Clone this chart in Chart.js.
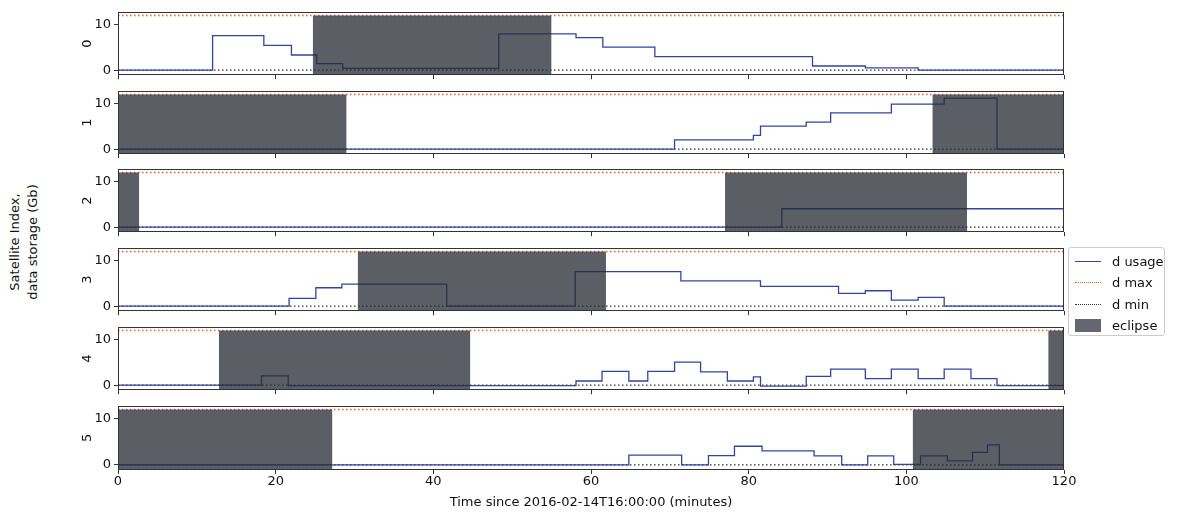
<!DOCTYPE html>
<html>
<head>
<meta charset="utf-8">
<script src="https://cdn.jsdelivr.net/npm/chart.js@4.4.0/dist/chart.umd.min.js"></script>
<style>
  body { margin: 0; background: #fff; width: 1181px; height: 512px; overflow: hidden; position: relative;
         font-family: "DejaVu Sans", sans-serif; color: #111; }
  canvas { position: absolute; left: 0; }
  #ylab { position: absolute; left: -126px; top: 224px; width: 300px; text-align: center; font-size: 13px;
          line-height: 18px; transform: rotate(-90deg); transform-origin: 150px 18px; }
  #legend { position: absolute; left: 1068px; top: 247px; width: 95px; height: 87px; border: 1px solid #ccc;
            border-radius: 3px; font-size: 13px; background: #fff; z-index: 5; }
  .item { position: absolute; left: 0; height: 16px; width: 95px; }
  .swatch { position: absolute; left: 6px; top: 7px; width: 26px; height: 0; }
  .item span { position: absolute; left: 43px; top: 0; line-height: 16px; }
</style>
</head>
<body>
<div id="ylab">Satellite Index,<br>data storage (Gb)</div>
<div id="legend">
  <div class="item" style="top:6px"><div class="swatch" style="border-top:1.5px solid #3344a0"></div><span>d usage</span></div>
  <div class="item" style="top:27px"><div class="swatch" style="border-top:1.5px dotted #f05a28"></div><span>d max</span></div>
  <div class="item" style="top:49px"><div class="swatch" style="border-top:1.5px dotted #333"></div><span>d min</span></div>
  <div class="item" style="top:70px"><div class="swatch" style="top:1px;height:13px;width:26px;background:rgba(40,44,52,0.72)"></div><span>eclipse</span></div>
</div>
<script>
// axis ticks and labels
const xTicks = [0, 20, 40, 60, 80, 100, 120];
const yTicks = [0, 10];
const satLabels = ['0', '1', '2', '3', '4', '5'];
const xTitle = 'Time since 2016-02-14T16:00:00 (minutes)';
const dMax = 11.9;
const dMin = 0;

// storage usage: step start times (minutes) and values (Gb)
const t0 = [0, 12, 18.5, 22, 25.2, 28.5, 48.3, 58.1, 61.5, 68.1, 88.1, 94.8, 101.5];
const u0 = [0, 7.5, 5.4, 3.3, 1.4, 0.4, 7.9, 7.1, 5.0, 2.95, 0.9, 0.5, 0];
const t1 = [0, 70.6, 80.6, 81.5, 87.3, 90.4, 98.1, 104.8, 111.5];
const u1 = [0, 2.0, 3.0, 5.0, 5.9, 7.9, 9.8, 11.1, 0];
const t2 = [0, 84.2];
const u2 = [0, 4.0];
const t3 = [0, 21.7, 25.1, 28.4, 41.7, 58.0, 71.4, 81.5, 91.4, 94.8, 98.1, 101.5, 104.8];
const u3 = [0, 1.7, 4.0, 4.8, 0, 7.5, 5.5, 4.3, 2.8, 3.35, 1.3, 1.9, 0];
const t4 = [0, 18.2, 21.6, 58.1, 61.4, 64.8, 67.2, 70.6, 73.9, 77.3, 80.6, 81.5, 87.3, 90.4, 94.8, 98.1, 101.5, 104.8, 108.2, 111.5];
const u4 = [0, 2.0, -0.1, 0.9, 3.0, 0.9, 3.0, 5.0, 2.9, 0.9, 1.8, -0.2, 1.9, 3.5, 1.4, 3.5, 1.4, 3.5, 1.4, -0.1];
const t5 = [0, 64.8, 71.5, 74.9, 78.2, 81.7, 88.3, 91.8, 95.1, 98.4, 101.8, 105.2, 108.4, 110.3, 111.8];
const u5 = [0, 2.1, 0, 2.0, 4.0, 3.0, 1.95, 0, 1.95, 0.1, 1.95, 0.85, 2.7, 4.3, 0];

// eclipse intervals [start, end] in minutes
const ecl0 = [[24.7, 55.0]];
const ecl1 = [[0, 29.0], [103.3, 120]];
const ecl2 = [[0, 2.7], [77.0, 107.7]];
const ecl3 = [[30.4, 61.9]];
const ecl4 = [[12.8, 44.7], [118.0, 120]];
const ecl5 = [[0, 27.2], [100.8, 120]];

const times = [t0, t1, t2, t3, t4, t5];
const usage = [u0, u1, u2, u3, u4, u5];
const eclipses = [ecl0, ecl1, ecl2, ecl3, ecl4, ecl5];

const panelTops = [11, 90, 168, 247, 326, 405];
const panelH = 65;
const padTop = 10;

// box around each plot area, like matplotlib spines
const frame = {
  id: 'frame',
  afterDraw(chart) {
    const { ctx, chartArea: a } = chart;
    ctx.save();
    ctx.strokeStyle = '#333';
    ctx.lineWidth = 1;
    ctx.strokeRect(Math.round(a.left) + 0.5, Math.round(a.top) + 0.5,
                   Math.round(a.right - a.left) - 1, Math.round(a.bottom - a.top) - 1);
    ctx.restore();
  }
};

Chart.defaults.font.family = '"DejaVu Sans", sans-serif';
Chart.defaults.font.size = 13;
Chart.defaults.color = '#111';

satLabels.forEach((lab, i) => {
  const last = i === satLabels.length - 1;
  const xH = last ? 40 : 5;
  const padBottom = last ? 0 : 5;
  const cv = document.createElement('canvas');
  cv.width = 1110;
  cv.height = padTop + panelH + xH + padBottom;
  cv.style.top = (panelTops[i] - padTop) + 'px';
  document.body.appendChild(cv);

  const tt = times[i], uu = usage[i];
  const pts = tt.map((t, k) => ({ x: t, y: uu[k] }));
  pts.push({ x: 120, y: uu[uu.length - 1] });

  const datasets = [];
  eclipses[i].forEach(e => {
    datasets.push({
      data: [{ x: e[0], y: dMax }, { x: e[1], y: dMax }],
      fill: 'start', backgroundColor: 'rgba(40,44,52,0.76)', borderWidth: 0, pointRadius: 0, order: 0
    });
  });
  datasets.push({ data: pts, stepped: true, borderColor: '#3344a0', borderWidth: 1.3, pointRadius: 0, fill: false, order: 1 });
  datasets.push({ data: [{ x: 0, y: dMax }, { x: 120, y: dMax }], borderColor: '#f05a28', borderDash: [1.5, 2.5],
                  borderWidth: 1.5, pointRadius: 0, fill: false, order: 2 });
  datasets.push({ data: [{ x: 0, y: dMin }, { x: 120, y: dMin }], borderColor: '#333', borderDash: [1.5, 2.5],
                  borderWidth: 1.2, pointRadius: 0, fill: false, order: 2 });

  new Chart(cv, {
    type: 'line',
    data: { datasets },
    plugins: [frame],
    options: {
      responsive: false,
      animation: false,
      layout: { padding: { left: 80, right: 1110 - 1064, top: padTop, bottom: padBottom } },
      plugins: { legend: { display: false }, tooltip: { enabled: false } },
      scales: {
        x: {
          type: 'linear', min: 0, max: 120,
          afterBuildTicks: s => { s.ticks = xTicks.map(v => ({ value: v })); },
          afterFit: s => { s.height = xH; },
          border: { display: false },
          grid: { display: true, drawOnChartArea: false, drawTicks: true, tickLength: 4, color: '#333' },
          ticks: { display: last, padding: 0, maxRotation: 0 },
          title: { display: last, text: xTitle, padding: { top: 1, bottom: 0 } }
        },
        y: {
          min: -1.1, max: 12.7,
          afterBuildTicks: s => { s.ticks = yTicks.map(v => ({ value: v })); },
          afterFit: s => { s.width = 38; },
          border: { display: false },
          grid: { display: true, drawOnChartArea: false, drawTicks: true, tickLength: 4, color: '#333' },
          ticks: { padding: 3 },
          title: { display: true, text: lab, padding: 0 }
        }
      }
    }
  });
});
</script>
</body>
</html>
